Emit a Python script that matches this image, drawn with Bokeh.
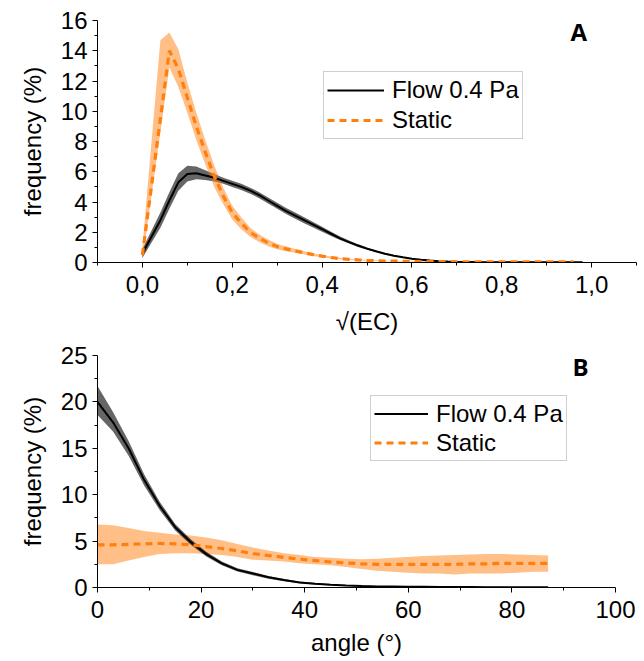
from bokeh.plotting import figure
from bokeh.layouts import column
from bokeh.models import FixedTicker, CustomJSTickFormatter, Label, Range1d
from bokeh.embed import file_html
from bokeh.resources import INLINE

# ---------------- Panel A data ----------------
ec_x = [0.00, 0.02, 0.04, 0.06, 0.08, 0.10, 0.12, 0.14, 0.16, 0.18,
        0.20, 0.22, 0.24, 0.26, 0.28, 0.30, 0.32, 0.34, 0.36, 0.38,
        0.40, 0.42, 0.44, 0.46, 0.48, 0.50, 0.52, 0.54, 0.56, 0.58,
        0.60, 0.62, 0.64, 0.66, 0.68, 0.70, 0.72, 0.74, 0.76, 0.78,
        0.80, 0.82, 0.84, 0.86, 0.88, 0.90, 0.92, 0.94, 0.96, 0.98]

flow_a_mean = [0.6, 1.7, 2.8, 4.1, 5.3, 5.85, 5.9, 5.75, 5.6, 5.4,
               5.2, 5.0, 4.75, 4.45, 4.1, 3.75, 3.4, 3.1, 2.8, 2.5,
               2.2, 1.9, 1.6, 1.35, 1.12, 0.92, 0.74, 0.58, 0.45, 0.34,
               0.25, 0.18, 0.13, 0.09, 0.06, 0.045, 0.035, 0.025, 0.02, 0.015,
               0.01, 0.01, 0.01, 0.01, 0.01, 0.01, 0.01, 0.01, 0.01, 0.01]
flow_a_low = [0.3, 1.3, 2.3, 3.55, 4.75, 5.35, 5.5, 5.45, 5.35, 5.2,
              5.0, 4.8, 4.55, 4.25, 3.9, 3.55, 3.2, 2.9, 2.6, 2.32,
              2.04, 1.76, 1.48, 1.25, 1.03, 0.85, 0.68, 0.53, 0.41, 0.31,
              0.22, 0.16, 0.11, 0.075, 0.05, 0.035, 0.025, 0.018, 0.013, 0.01,
              0.005, 0.005, 0.005, 0.005, 0.005, 0.005, 0.005, 0.005, 0.005, 0.005]
flow_a_high = [0.9, 2.1, 3.3, 4.65, 5.9, 6.4, 6.35, 6.1, 5.85, 5.6,
               5.4, 5.2, 4.95, 4.65, 4.3, 3.95, 3.6, 3.3, 3.0, 2.68,
               2.36, 2.04, 1.72, 1.45, 1.21, 0.99, 0.80, 0.63, 0.49, 0.37,
               0.28, 0.20, 0.15, 0.105, 0.07, 0.055, 0.045, 0.032, 0.027, 0.02,
               0.015, 0.015, 0.015, 0.015, 0.015, 0.015, 0.015, 0.015, 0.015, 0.015]

static_a_mean = [0.5, 5.0, 9.5, 14.0, 12.8, 10.9, 9.0, 7.3, 5.7, 4.4,
                 3.3, 2.6, 2.0, 1.6, 1.3, 1.05, 0.9, 0.77, 0.64, 0.52,
                 0.42, 0.33, 0.26, 0.21, 0.17, 0.14, 0.12, 0.10, 0.09, 0.08,
                 0.07, 0.065, 0.06, 0.055, 0.05, 0.05, 0.045, 0.045, 0.04, 0.04,
                 0.04, 0.04, 0.04, 0.04, 0.04, 0.04, 0.04, 0.04, 0.04]
static_a_low = [0.1, 4.4, 8.6, 12.9, 11.6, 9.9, 8.1, 6.5, 5.0, 3.85,
                2.85, 2.2, 1.7, 1.35, 1.08, 0.88, 0.75, 0.64, 0.53, 0.43,
                0.35, 0.27, 0.21, 0.17, 0.14, 0.11, 0.095, 0.08, 0.07, 0.06,
                0.05, 0.045, 0.04, 0.035, 0.03, 0.03, 0.025, 0.025, 0.02, 0.02,
                0.02, 0.02, 0.02, 0.02, 0.02, 0.02, 0.02, 0.02, 0.02]
static_a_high = [1.0, 7.9, 14.7, 15.2, 14.1, 11.9, 9.9, 8.1, 6.4, 4.95,
                 3.75, 3.0, 2.3, 1.85, 1.52, 1.22, 1.05, 0.9, 0.75, 0.61,
                 0.49, 0.39, 0.31, 0.25, 0.2, 0.17, 0.145, 0.12, 0.11, 0.10,
                 0.09, 0.085, 0.08, 0.075, 0.07, 0.07, 0.065, 0.065, 0.06, 0.06,
                 0.06, 0.06, 0.06, 0.06, 0.06, 0.06, 0.06, 0.06, 0.06]

ec_ticks = [0.0, 0.2, 0.4, 0.6, 0.8, 1.0]
ec_minor = [-0.1, 0.1, 0.3, 0.5, 0.7, 0.9, 1.1]
freq_a_ticks = [0, 2, 4, 6, 8, 10, 12, 14, 16]
freq_a_minor = [1, 3, 5, 7, 9, 11, 13, 15]

# ---------------- Panel B data ----------------
angle_x = [0, 3, 6, 9, 12, 15, 18, 21, 24, 27, 30, 33, 36, 39, 42,
           45, 48, 51, 54, 57, 60, 63, 66, 69, 72, 75, 78, 81, 84, 87]

flow_b_mean = [20.0, 17.8, 15.0, 11.6, 8.8, 6.5, 4.9, 3.6, 2.6, 1.9,
               1.5, 1.1, 0.8, 0.55, 0.4, 0.3, 0.22, 0.16, 0.12, 0.1,
               0.08, 0.07, 0.06, 0.05, 0.05, 0.04, 0.04, 0.03, 0.03, 0.03]
flow_b_low = [18.6, 16.8, 14.2, 11.0, 8.35, 6.15, 4.6, 3.35, 2.4, 1.72,
              1.32, 0.95, 0.68, 0.45, 0.32, 0.23, 0.16, 0.11, 0.08, 0.06,
              0.05, 0.04, 0.03, 0.02, 0.02, 0.01, 0.01, 0.01, 0.01, 0.01]
flow_b_high = [21.7, 18.9, 15.8, 12.2, 9.25, 6.85, 5.2, 3.85, 2.8, 2.08,
               1.68, 1.25, 0.92, 0.65, 0.48, 0.37, 0.28, 0.21, 0.16, 0.14,
               0.11, 0.1, 0.09, 0.08, 0.08, 0.07, 0.07, 0.05, 0.05, 0.05]

static_b_mean = [4.6, 4.6, 4.65, 4.7, 4.75, 4.7, 4.6, 4.4, 4.2, 3.95,
                 3.65, 3.45, 3.25, 3.05, 2.9, 2.75, 2.65, 2.55, 2.5, 2.5,
                 2.5, 2.5, 2.5, 2.5, 2.55, 2.55, 2.6, 2.6, 2.6, 2.6]
static_b_low = [2.5, 2.5, 2.9, 3.3, 3.6, 3.7, 3.7, 3.6, 3.5, 3.3,
                3.0, 2.9, 2.8, 2.6, 2.5, 2.4, 2.2, 2.0, 1.8, 1.7,
                1.6, 1.5, 1.5, 1.4, 1.5, 1.5, 1.5, 1.6, 1.7, 1.7]
static_b_high = [6.8, 6.7, 6.4, 6.1, 5.9, 5.7, 5.6, 5.4, 5.1, 4.7,
                 4.3, 4.0, 3.7, 3.5, 3.3, 3.2, 3.1, 3.05, 3.1, 3.2,
                 3.3, 3.4, 3.45, 3.5, 3.55, 3.6, 3.6, 3.55, 3.5, 3.45]

angle_ticks = [0, 20, 40, 60, 80, 100]
angle_minor = [10, 30, 50, 70, 90]
freq_b_ticks = [0, 5, 10, 15, 20, 25]
freq_b_minor = [2.5, 7.5, 12.5, 17.5, 22.5]

series_names = ["Flow 0.4 Pa", "Static"]
panel_tags = ["A", "B"]

FONT = "Liberation Sans"
ORANGE = "#FF7F0E"
TICK_PX = "24px"


def style(p, xlabel, xlabel_standoff):
    p.xgrid.visible = False
    p.ygrid.visible = False
    p.outline_line_color = None
    for ax in (p.xaxis[0], p.yaxis[0]):
        ax.axis_line_color = "black"
        ax.major_tick_line_color = "black"
        ax.minor_tick_line_color = "black"
        ax.major_tick_out = 5
        ax.major_tick_in = 0
        ax.minor_tick_out = 3
        ax.minor_tick_in = 0
        ax.major_label_text_font = FONT
        ax.major_label_text_font_size = TICK_PX
        ax.major_label_text_color = "black"
        ax.axis_label_text_font = FONT
        ax.axis_label_text_font_size = "24px"
        ax.axis_label_text_font_style = "normal"
        ax.axis_label_text_color = "black"
    p.xaxis.axis_label = xlabel
    p.yaxis.axis_label = "frequency (%)"
    p.xaxis.major_label_standoff = 8
    p.yaxis.major_label_standoff = 5
    p.xaxis.axis_label_standoff = xlabel_standoff
    p.yaxis.axis_label_standoff = 12


def style_legend(p, loc, glyph_w, label_h):
    lg = p.legend[0]
    lg.location = loc
    lg.label_text_font = FONT
    lg.label_text_font_size = "24px"
    lg.label_text_color = "black"
    lg.glyph_width = glyph_w
    lg.glyph_height = label_h
    lg.label_height = label_h
    lg.label_standoff = 8
    lg.padding = 3
    lg.spacing = 0
    lg.margin = 0
    lg.border_line_color = "#A0A0A0"
    lg.border_line_width = 1
    lg.background_fill_color = "white"
    lg.background_fill_alpha = 1.0


# ---------------- Panel A ----------------
pA = figure(frame_width=539, frame_height=242, output_backend="svg", toolbar_location=None,
            x_range=Range1d(-0.1, 1.1), y_range=Range1d(0, 16),
            min_border_left=97, min_border_right=2, min_border_top=20, min_border_bottom=78)
pA.varea(x=ec_x, y1=flow_a_low, y2=flow_a_high, fill_color="black", fill_alpha=0.6)
pA.varea(x=ec_x[:len(static_a_mean)], y1=static_a_low, y2=static_a_high,
         fill_color=ORANGE, fill_alpha=0.5)
pA.line(ec_x, flow_a_mean, line_color="black", line_width=2, legend_label=series_names[0])
pA.line(ec_x[:len(static_a_mean)], static_a_mean, line_color=ORANGE, line_width=3.2,
        line_dash="7 5", legend_label=series_names[1])
style(pA, "√(EC)", 12)
pA.xaxis.ticker = FixedTicker(ticks=ec_ticks, minor_ticks=ec_minor)
pA.xaxis.formatter = CustomJSTickFormatter(code="return tick.toFixed(1).replace('.', ',');")
pA.yaxis.ticker = FixedTicker(ticks=freq_a_ticks, minor_ticks=freq_a_minor)
style_legend(pA, (226, 123), 57, 30)
pA.add_layout(Label(x=0.953, y=15.3, text=panel_tags[0], text_font="Open Sans",
                    text_font_style="bold", text_font_size="24px", text_color="black",
                    text_baseline="middle"))

# ---------------- Panel B ----------------
pB = figure(frame_width=518, frame_height=232, output_backend="svg", toolbar_location=None,
            x_range=Range1d(0, 100), y_range=Range1d(0, 25),
            min_border_left=95, min_border_right=25, min_border_top=15, min_border_bottom=60)
pB.varea(x=angle_x, y1=static_b_low, y2=static_b_high, fill_color=ORANGE, fill_alpha=0.5)
pB.varea(x=angle_x, y1=flow_b_low, y2=flow_b_high, fill_color="black", fill_alpha=0.6)
pB.line(angle_x, flow_b_mean, line_color="black", line_width=2, legend_label=series_names[0])
pB.line(angle_x, static_b_mean, line_color=ORANGE, line_width=3.2, line_dash="7 5",
        legend_label=series_names[1])
style(pB, "angle (°)", 8)
pB.xaxis.ticker = FixedTicker(ticks=angle_ticks, minor_ticks=angle_minor)
pB.yaxis.ticker = FixedTicker(ticks=freq_b_ticks, minor_ticks=freq_b_minor)
style_legend(pB, (273, 126), 54, 29)
pB.add_layout(Label(x=91.7, y=23.8, text=panel_tags[1], text_font="Open Sans",
                    text_font_style="bold", text_font_size="24px", text_color="black",
                    text_baseline="middle"))

layout = column(pA, pB, spacing=0)
open("out.html", "w").write(file_html(layout, INLINE))
